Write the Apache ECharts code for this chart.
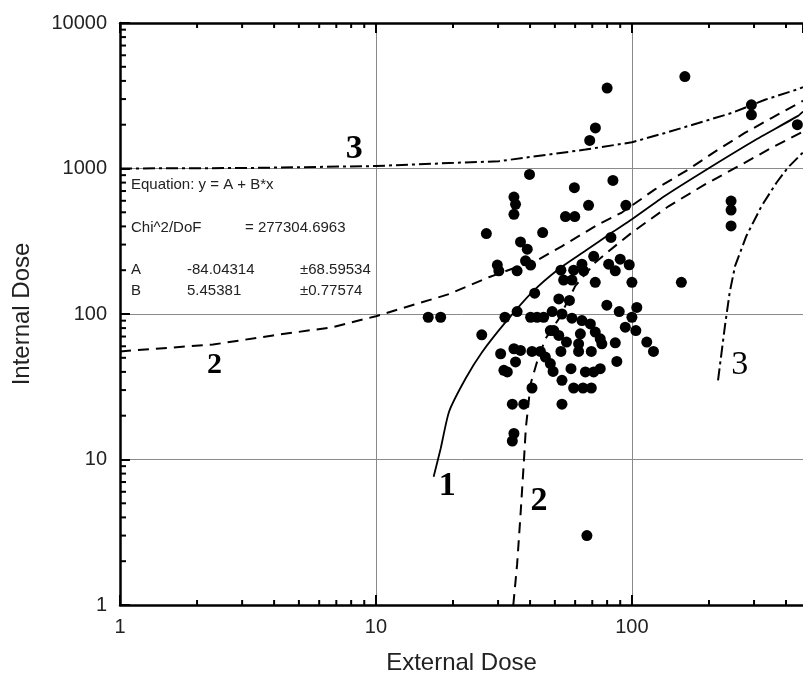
<!DOCTYPE html>
<html>
<head>
<meta charset="utf-8">
<script src="https://cdn.jsdelivr.net/npm/echarts@6/dist/echarts.min.js"></script>
<style>
  html, body { margin: 0; padding: 0; background: #fff; }
  #chart { width: 803px; height: 680px; }
</style>
</head>
<body>
<div id="chart"></div>
<script>
// Axis extents (log-log)
const X_MIN = 1, X_MAX = 466;
const Y_MIN = 1, Y_MAX = 10000;
const xTickLabels = ['1', '10', '100'];
const yTickLabels = ['1', '10', '100', '1000', '10000'];

// Measured doses: [external, internal]
const measured = [
  [80, 3570], [161, 4280], [72, 1900], [68.4, 1560], [293, 2740], [293, 2340], [443, 2000],
  [39.8, 910], [59.6, 738], [84.3, 828], [34.6, 636], [35.1, 567], [34.6, 484],
  [67.7, 558], [94.7, 558], [55, 467], [59.8, 467], [27, 357], [44.8, 363],
  [36.7, 313], [39, 279], [82.8, 336], [38.4, 232], [40.2, 217], [29.8, 217],
  [30.2, 198], [35.6, 198], [70.9, 249], [81.1, 220], [86.1, 198], [90, 238],
  [97.6, 218], [52.8, 200], [59.2, 200], [63.8, 220], [64.8, 198], [54.1, 171],
  [58.3, 171], [71.9, 165], [100, 165], [156, 165], [41.7, 139], [51.8, 127],
  [57, 124], [79.8, 115], [89.2, 104], [104.5, 111], [100, 95], [16, 95],
  [17.9, 95], [31.9, 95], [35.6, 104], [40.2, 95], [42.6, 95], [45.2, 95],
  [48.8, 104], [94.2, 81.2], [103.6, 77], [25.9, 71.9], [48, 77], [51.8, 71.2],
  [62.9, 73.1], [71.9, 75.1], [75.2, 67.5], [114.3, 64.1], [121.4, 55.3],
  [61.9, 62.4], [76.3, 62.4], [86.1, 63.4], [30.7, 53.3], [34.6, 57.7],
  [36.7, 56.2], [35.1, 46.8], [40.7, 55.3], [43.9, 55.3], [45.9, 50.6],
  [52.8, 55.3], [61.9, 55.3], [69.4, 55.3], [48, 45.6], [49.2, 40.3],
  [87.3, 47.2], [31.6, 41], [32.6, 40], [53.3, 35], [65.8, 40], [70.9, 40],
  [75.2, 42.1], [40.7, 31], [59.2, 31], [64.4, 31], [69.4, 31], [34.1, 24],
  [37.8, 24], [53.3, 24], [34.6, 15.1], [34.1, 13.4], [66.7, 3.0],
  [244, 597], [244, 518], [244, 403], [53.3, 100], [58.3, 93.6], [63.8, 90.1],
  [68.8, 85.5], [49.5, 77], [55.5, 64.1], [57.8, 42.1]
];

// Curve 1: fitted line y = A + B*x
const fitLine = [
  [16.8, 7.6], [17.9, 11.9], [19.3, 21.3], [22.4, 36], [26, 54.8], [32.1, 87.9],
  [40.7, 141], [51.8, 204], [65.8, 272], [83.5, 363], [100, 448], [134.8, 650],
  [187, 936], [300, 1552], [445.7, 2300], [466, 2460]
];

// Curve 2: confidence band
const confUpper = [
  [1, 55.3], [2.31, 61.7], [3.96, 71.2], [6.78, 81.2], [10, 96.6], [19.3, 137],
  [27.6, 179], [43.3, 238], [53.2, 292], [74.1, 414], [91.3, 498], [123, 718],
  [166, 984], [217, 1349], [276, 1755], [351, 2223], [466, 2920]
];
const confLower = [
  [34.4, 1], [35.6, 1.9], [36.7, 4.15], [37.8, 9.42], [38.5, 16.4], [40.2, 33.2],
  [42.6, 47], [45.9, 67.5], [51.8, 92.6], [60.1, 156], [71.9, 226], [86.1, 294],
  [100, 363], [139, 550], [193, 777], [268, 1065], [351, 1386], [466, 1790]
];

// Curve 3: prediction band
const predUpper = [
  [1, 1000], [3.21, 1008], [10, 1040], [19.3, 1090], [30.2, 1122], [47.3, 1247],
  [65.8, 1349], [100, 1514], [134.8, 1755], [182, 2055], [245, 2406], [331, 2967],
  [446, 3512], [466, 3620]
];
const predLower = [
  [217, 35], [231, 83.3], [241, 141], [253, 214], [280, 344], [321, 552],
  [367, 798], [407, 1016], [466, 1290]
];

// Curve numbers placed in data space
const curveTags = [
  { text: '3', at: [8.23, 1349], bold: true, size: 34 },
  { text: '2', at: [2.34, 44.4], bold: true, size: 30 },
  { text: '1', at: [19.0, 6.52], bold: true, size: 34 },
  { text: '2', at: [43.3, 5.15], bold: true, size: 34 },
  { text: '3', at: [264, 44.4], bold: false, size: 34 }
];

// Fit report text
const fitEquation = 'Equation: y = A + B*x';
const fitChiLabel = 'Chi^2/DoF';
const fitChiValue = '= 277304.6963';
const fitParams = [
  ['A', '-84.04314', '\u00b168.59534'],
  ['B', '5.45381', '\u00b10.77574']
];

// Minor tick positions: 2..9 within each decade
function subDecadeTicks(lo, hi) {
  const out = [];
  for (let d = 1; d < hi; d *= 10) {
    for (let m = 2; m <= 9; m++) {
      const v = d * m;
      if (v > lo && v < hi) out.push(v);
    }
  }
  return out;
}
const minorX = subDecadeTicks(X_MIN, X_MAX);
const minorY = subDecadeTicks(Y_MIN, Y_MAX);

const FONT = '"Liberation Sans", Arial, sans-serif';
const SERIF = '"Liberation Serif", "Times New Roman", serif';
const AXIS_W = 2.5;

function decadeLabel(list) {
  return function (v) {
    const s = String(Math.round(v));
    return list.indexOf(s) >= 0 && Math.abs(Math.round(v) - v) < 1e-6 * v ? s : '';
  };
}

const lineStyleBase = { color: '#000', width: 2 };

const chart = echarts.init(document.getElementById('chart'), null, { renderer: 'canvas' });

const option = {
  backgroundColor: '#fff',
  animation: false,
  grid: { left: 120, right: -2, top: 23, bottom: 73, containLabel: false },
  xAxis: [
    {
      type: 'log', logBase: 10, min: X_MIN, max: X_MAX, position: 'bottom',
      name: 'External Dose', nameLocation: 'middle', nameGap: 46,
      nameTextStyle: { fontFamily: FONT, fontSize: 24, color: '#222' },
      axisLine: { lineStyle: { color: '#000', width: AXIS_W } },
      axisTick: { inside: true, length: 10, lineStyle: { color: '#000', width: 2 } },
      axisLabel: { fontFamily: FONT, fontSize: 20, color: '#222', margin: 12,
                   formatter: decadeLabel(xTickLabels), showMaxLabel: false },
      splitLine: { show: true, lineStyle: { color: '#8a8a8a', width: 1 } },
      minorTick: { show: false }
    },
    {
      type: 'log', logBase: 10, min: X_MIN, max: X_MAX, position: 'top',
      axisLine: { lineStyle: { color: '#000', width: AXIS_W } },
      axisTick: { inside: true, length: 10, lineStyle: { color: '#000', width: 2 } },
      axisLabel: { show: false },
      splitLine: { show: false }
    }
  ],
  yAxis: [
    {
      type: 'log', logBase: 10, min: Y_MIN, max: Y_MAX,
      name: 'Internal Dose', nameLocation: 'middle', nameGap: 86,
      nameTextStyle: { fontFamily: FONT, fontSize: 24, color: '#222' },
      axisLine: { lineStyle: { color: '#000', width: AXIS_W } },
      axisTick: { inside: true, length: 10, lineStyle: { color: '#000', width: 2 } },
      axisLabel: { fontFamily: FONT, fontSize: 20, color: '#222', margin: 13,
                   formatter: decadeLabel(yTickLabels) },
      splitLine: { show: true, lineStyle: { color: '#8a8a8a', width: 1 } }
    }
  ],
  series: [
    {
      name: 'minor-x', type: 'custom', silent: true, clip: false, z: 6,
      data: minorX.map(v => [v, Y_MIN]),
      renderItem(params, api) {
        const cs = params.coordSys;
        const px = api.coord([api.value(0), Y_MIN])[0];
        const bottom = cs.y + cs.height;
        return {
          type: 'group',
          children: [
            { type: 'line', shape: { x1: px, y1: bottom, x2: px, y2: bottom - 5 }, style: { stroke: '#000', lineWidth: 2 } },
            { type: 'line', shape: { x1: px, y1: cs.y, x2: px, y2: cs.y + 5 }, style: { stroke: '#000', lineWidth: 2 } }
          ]
        };
      }
    },
    {
      name: 'minor-y', type: 'custom', silent: true, clip: false, z: 6,
      data: minorY.map(v => [X_MIN, v]),
      renderItem(params, api) {
        const cs = params.coordSys;
        const py = api.coord([X_MIN, api.value(1)])[1];
        return {
          type: 'line',
          shape: { x1: cs.x, y1: py, x2: cs.x + 6, y2: py },
          style: { stroke: '#000', lineWidth: 2 }
        };
      }
    },
    {
      name: 'Prediction upper', type: 'line', data: predUpper, showSymbol: false, symbol: 'none',
      lineStyle: Object.assign({}, lineStyleBase, { type: [12, 4, 3, 4] }), z: 3, silent: true
    },
    {
      name: 'Prediction lower', type: 'line', data: predLower, showSymbol: false, symbol: 'none',
      lineStyle: Object.assign({}, lineStyleBase, { type: [12, 4, 3, 4] }), z: 3, silent: true
    },
    {
      name: 'Confidence upper', type: 'line', data: confUpper, showSymbol: false, symbol: 'none',
      lineStyle: Object.assign({}, lineStyleBase, { type: [11, 7] }), z: 3, silent: true
    },
    {
      name: 'Confidence lower', type: 'line', data: confLower, showSymbol: false, symbol: 'none',
      lineStyle: Object.assign({}, lineStyleBase, { type: [11, 7] }), z: 3, silent: true
    },
    {
      name: 'Fit', type: 'line', data: fitLine, showSymbol: false, symbol: 'none', smooth: 0.2,
      lineStyle: Object.assign({}, lineStyleBase, { width: 1.8 }), z: 3, silent: true
    },
    {
      name: 'Measured', type: 'scatter', data: measured, symbol: 'circle', symbolSize: 11,
      itemStyle: { color: '#000', opacity: 1 }, z: 4, silent: true
    },
    {
      name: 'Curve numbers', type: 'scatter', symbol: 'circle', symbolSize: 1, silent: true, z: 5,
      itemStyle: { color: 'rgba(0,0,0,0)', opacity: 1 },
      data: curveTags.map(t => ({
        value: t.at,
        label: {
          show: true, position: 'inside', formatter: t.text, opacity: 1,
          fontFamily: SERIF, fontSize: t.size, fontWeight: t.bold ? 'bold' : 'normal', color: '#000'
        }
      }))
    }
  ],
  graphic: [
    { type: 'text', left: 131, top: 177, style: { text: fitEquation, font: '15px ' + FONT, fill: '#222' } },
    { type: 'text', left: 131, top: 220, style: { text: fitChiLabel, font: '15px ' + FONT, fill: '#222' } },
    { type: 'text', left: 245, top: 220, style: { text: fitChiValue, font: '15px ' + FONT, fill: '#222' } },
    { type: 'text', left: 131, top: 262, style: { text: fitParams[0][0], font: '15px ' + FONT, fill: '#222' } },
    { type: 'text', left: 187, top: 262, style: { text: fitParams[0][1], font: '15px ' + FONT, fill: '#222' } },
    { type: 'text', left: 300, top: 262, style: { text: fitParams[0][2], font: '15px ' + FONT, fill: '#222' } },
    { type: 'text', left: 131, top: 283, style: { text: fitParams[1][0], font: '15px ' + FONT, fill: '#222' } },
    { type: 'text', left: 187, top: 283, style: { text: fitParams[1][1], font: '15px ' + FONT, fill: '#222' } },
    { type: 'text', left: 300, top: 283, style: { text: fitParams[1][2], font: '15px ' + FONT, fill: '#222' } }
  ]
};

chart.setOption(option);
</script>
</body>
</html>
